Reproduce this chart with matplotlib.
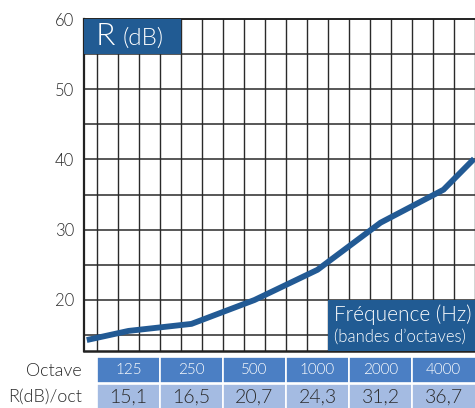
import matplotlib
matplotlib.use("Agg")
import matplotlib.pyplot as plt
from matplotlib.patches import Rectangle
import numpy as np

plt.rcParams['font.family'] = ['Lato', 'DejaVu Sans']
WT = 300

# ---- data ----
octaves = ["125", "250", "500", "1000", "2000", "4000"]
octave_freqs = [125, 250, 500, 1000, 2000, 4000]
r_per_octave = ["15,1", "16,5", "20,7", "24,3", "31,2", "36,7"]
curve_freq = [79, 125, 250, 500, 1000, 2000, 4000, 5600]
curve_r = [14.3, 15.6, 16.6, 20.0, 24.3, 31.0, 35.7, 40.1]
yticks = [20, 30, 40, 50, 60]

W, H = 475, 408
fig = plt.figure(figsize=(W / 100, H / 100), dpi=100)

box_col = "#215b93"
line_col = "#225a94"
head_col = "#4b7fc4"
val_col = "#a4bbe2"
txt_col = "#2b2b2b"

def fx(px):
    return px / W

def fy(py):
    return 1 - py / H

ax_l, ax_r = 84, 476
ax_t, ax_b = 19, 351
ax = fig.add_axes([fx(ax_l), fy(ax_b), fx(ax_r - ax_l), fy(ax_t) - fy(ax_b)])
ax.set_xscale('log')
xmin = 125 * 2 ** -0.706
xmax = 125 * 2 ** 5.516
ax.set_xlim(xmin, xmax)
ax.set_ylim(12.74, 60)

# grid
for k in range(19):
    ax.axvline(125 * 2 ** (-0.5 + k / 3), color="#2a2a2a", lw=1.0, zorder=1)
for yv in np.arange(15, 60, 5):
    ax.axhline(yv, color="#2a2a2a", lw=1.1, zorder=1)

ax.set_xticks([])
ax.set_xticks([], minor=True)
ax.set_yticks(yticks)
ax.set_yticklabels([str(v) for v in yticks], fontsize=12, color=txt_col,
                   fontweight=WT)
ax.tick_params(axis='y', length=0, pad=7)
for s in ['left', 'bottom', 'top']:
    ax.spines[s].set_color("#222222")
ax.spines['left'].set_linewidth(1.6)
ax.spines['bottom'].set_linewidth(1.8)
ax.spines['top'].set_linewidth(1.4)
ax.spines['right'].set_visible(False)

ax.plot(curve_freq, curve_r, color=line_col, lw=4.2, solid_capstyle='butt',
        solid_joinstyle='miter', zorder=3)

# R (dB) box
x_box_r = 125 * 2 ** (-0.5 + 4 / 3)
ax.add_patch(Rectangle((xmin, 55), x_box_r - xmin, 5, color=box_col, zorder=4, lw=0))
ax.text(125 * 2 ** -0.52, 56.3, "R", color="white", fontsize=23, va='baseline',
        ha='left', zorder=5, fontweight=WT)
ax.text(125 * 2 ** -0.09, 56.3, "(dB)", color="white", fontsize=17.5, va='baseline',
        ha='left', zorder=5, fontweight=WT)

# Frequence box
x_box_f = 125 * 2 ** (-0.5 + 11 / 3)
ax.add_patch(Rectangle((x_box_f, 12.74), xmax - x_box_f, 20 - 12.74, color=box_col,
                       zorder=4, lw=0))
ax.text(125 * 2 ** 3.27, 17.0, "Fréquence (Hz)", color="white", fontsize=15,
        va='baseline', ha='left', zorder=5, clip_on=False, fontweight=WT)
ax.text(125 * 2 ** 3.27, 14.1, "(bandes d\u2019octaves)", color="white", fontsize=12,
        va='baseline', ha='left', zorder=5, clip_on=False, fontweight=WT)

# table
tb_top, tb_bot = 357, 410
axt = fig.add_axes([fx(ax_l), fy(tb_bot), fx(ax_r - ax_l), fy(tb_top) - fy(tb_bot)])
axt.set_xscale('log')
axt.set_xlim(xmin, xmax)
axt.set_ylim(tb_bot, tb_top)
axt.axis('off')
for i, (f, lab, val) in enumerate(zip(octave_freqs, octaves, r_per_octave)):
    x0 = f * 2 ** -0.5
    x1 = f * 2 ** 0.5 if i < len(octaves) - 1 else xmax * 1.05
    axt.add_patch(Rectangle((x0, 357), x1 - x0, 26, facecolor=head_col,
                            edgecolor='white', lw=1.2))
    axt.add_patch(Rectangle((x0, 383.5), x1 - x0, 30, facecolor=val_col,
                            edgecolor='white', lw=1.2))
    axt.text(f, 370.5, lab, color='white', fontsize=11, ha='center', va='center',
             fontweight=WT)
    axt.text(f, 397, val, color=txt_col, fontsize=14, ha='center', va='center',
             fontweight=WT)

fig.text(fx(82), fy(370.5), "Octave", color=txt_col, fontsize=13, ha='right',
         va='center', fontweight=WT)
fig.text(fx(82), fy(397), "R(dB)/oct", color=txt_col, fontsize=13, ha='right',
         va='center', fontweight=WT)

fig.savefig("out.png", dpi=100)
